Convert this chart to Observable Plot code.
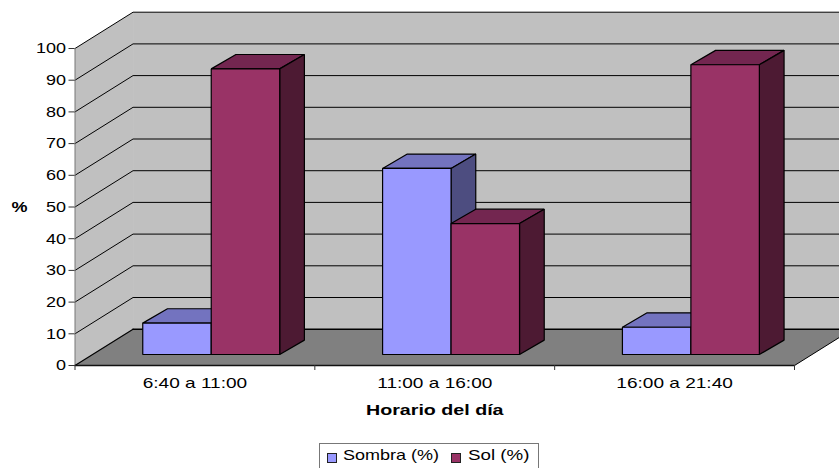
<!DOCTYPE html>
<html>
<head>
<meta charset="utf-8">
<script src="https://cdn.jsdelivr.net/npm/d3@7"></script>
<script src="https://cdn.jsdelivr.net/npm/@observablehq/plot@0.6"></script>
<style>
  html, body { margin: 0; padding: 0; background: #fff; height: 468px; overflow: hidden; }
  #chart svg { display: block; }
  #legend {
    position: absolute; left: 319px; top: 443px; width: 220px; height: 25px;
    box-sizing: border-box; border: 1px solid #777; border-bottom: none; background: #fff;
    font: 15px "Liberation Sans", Arial, sans-serif; color: #000;
  }
  #legend i { position: absolute; top: 9px; width: 8px; height: 8px; border: 1px solid #222; box-sizing: content-box; }
  #legend span { position: absolute; top: 2px; transform-origin: left; white-space: nowrap; line-height: 18px; }
</style>
</head>
<body>
<div id="chart"></div>
<div id="legend">
  <i style="left:7px;background:#9999ff"></i><span style="left:23px;transform:scaleX(1.2)">Sombra (%)</span>
  <i style="left:131px;background:#993366"></i><span style="left:148px;transform:scaleX(1.25)">Sol (%)</span>
</div>
<script>
// Share of the day spent in shade and in sun for each time band
const categories = ["6:40 a 11:00", "11:00 a 16:00", "16:00 a 21:40"];
const sombra = [9.9, 58.7, 8.6];
const sol = [90.1, 41.3, 91.4];
const yTicks = [0, 10, 20, 30, 40, 50, 60, 70, 80, 90, 100];

// Oblique projection: depth is expressed as a shift along both axes
const wallDepth = { x: 0.242, y: 11.45 };   // floor and wall depth
const barDepth = { x: 0.103, y: 4.54 };     // depth of one column
const barBase = { y: 3.47 };                // columns stand this far into the floor
const barStart = 0.2825;                    // left edge of the pair within a category
const barWidth = 0.2855;

const n = categories.length;
const shapes = [];
function poly(id, face, pts) {
  pts.forEach(([x, y]) => shapes.push({ id, face, x, y }));
}

// Side wall, back wall and floor
const walls = [];
const wall = (id, face, pts) => pts.forEach(([x, y]) => walls.push({ id, face, x, y }));
wall("left", "wall", [[0, 0], [0, 100], [wallDepth.x, 100 + wallDepth.y], [wallDepth.x, wallDepth.y]]);
wall("back", "wall", [[wallDepth.x, wallDepth.y], [wallDepth.x, 100 + wallDepth.y], [n + wallDepth.x, 100 + wallDepth.y], [n + wallDepth.x, wallDepth.y]]);
wall("floor", "floor", [[0, 0], [n, 0], [n + wallDepth.x, wallDepth.y], [wallDepth.x, wallDepth.y]]);

// Gridlines run up the side wall and then along the back wall
const grid = yTicks.slice(1).flatMap((v) => [
  { v, x: 0, y: v },
  { v, x: wallDepth.x, y: v + wallDepth.y },
  { v, x: n + wallDepth.x, y: v + wallDepth.y }
]);

// Each column is three faces, painted back to front
function column(name, i, slot, value) {
  const x0 = i + barStart + slot * barWidth, x1 = x0 + barWidth;
  const y0 = barBase.y, y1 = barBase.y + value;
  const dx = barDepth.x, dy = barDepth.y;
  const id = `${name}-${i}`;
  poly(id + "-top", name + "-top", [[x0, y1], [x1, y1], [x1 + dx, y1 + dy], [x0 + dx, y1 + dy]]);
  poly(id + "-side", name + "-side", [[x1, y0], [x1, y1], [x1 + dx, y1 + dy], [x1 + dx, y0 + dy]]);
  poly(id + "-front", name + "-front", [[x0, y0], [x1, y0], [x1, y1], [x0, y1]]);
}
categories.forEach((_, i) => {
  column("sombra", i, 0, sombra[i]);
  column("sol", i, 1, sol[i]);
});

const chart = Plot.plot({
  width: 839,
  height: 440,
  marginLeft: 74.5,
  marginRight: 45,
  marginTop: 48,
  marginBottom: 75,
  style: { fontFamily: "'Liberation Sans', Arial, sans-serif", fontSize: "15px", color: "#000", background: "#fff", overflow: "hidden" },
  x: { domain: [0, n], range: [74.5, 794] },
  y: { domain: [0, 100], range: [365, 48] },
  color: {
    domain: ["wall", "floor", "sombra-top", "sombra-side", "sombra-front", "sol-top", "sol-side", "sol-front"],
    range: ["#c0c0c0", "#808080", "#7373bf", "#4d4d80", "#9999ff", "#732650", "#4d1a33", "#993366"]
  },
  marks: [
    Plot.line(walls, { x: "x", y: "y", z: "id", fill: "face", stroke: "none", curve: "linear-closed" }),
    Plot.line(grid, { x: "x", y: "y", z: "v", stroke: "#000", strokeWidth: 1 }),
    Plot.ruleX([0], { y1: 0, y2: 100, stroke: "#777", strokeWidth: 1 }),
    // Floor outline: heavy along the front and back, thin on the slanted ends
    Plot.line([[0, 0], [wallDepth.x, wallDepth.y]], { x: "0", y: "1", stroke: "#000", strokeWidth: 1.2 }),
    Plot.line([[n, 0], [n + wallDepth.x, wallDepth.y]], { x: "0", y: "1", stroke: "#000", strokeWidth: 1 }),
    Plot.line([[wallDepth.x, wallDepth.y], [n + wallDepth.x, wallDepth.y]], { x: "0", y: "1", stroke: "#000", strokeWidth: 1.6 }),
    Plot.line([[0, 0], [n, 0]], { x: "0", y: "1", stroke: "#111", strokeWidth: 1.4 }),
    Plot.line(shapes, { x: "x", y: "y", z: "id", fill: "face", stroke: "#000", strokeWidth: 1.2, strokeLinejoin: "miter", curve: "linear-closed" }),
    Plot.axisY({ ticks: yTicks, tickSize: 6, tickPadding: 3, label: null, tickFormat: (d) => d, stroke: "#333" }),
    Plot.axisX({ ticks: d3.range(n + 1), tickSize: 5, tickFormat: () => "", label: null, stroke: "#333" }),
    Plot.axisX({ ticks: categories.map((_, i) => i + 0.5), tickSize: 0, tickPadding: 12, tickFormat: (d) => categories[d - 0.5], label: null }),
    Plot.text(["%"], { y: [50], frameAnchor: "left", dx: -55.5, textAnchor: "middle", fontWeight: "bold" }),
    Plot.text(["Horario del día"], { x: [n / 2], frameAnchor: "bottom", dy: 49, textAnchor: "middle", fontWeight: "bold" })
  ]
});
document.getElementById("chart").append(chart);

// The typeface is set slightly extended horizontally; category and axis titles a little more
chart.querySelectorAll("text").forEach((t) => {
  const len = t.getComputedTextLength();
  if (len > 0) {
    const wide = /[a-z]/.test(t.textContent);
    const bold = getComputedStyle(t).fontWeight >= 600 || t.getAttribute("font-weight") === "bold";
    t.setAttribute("textLength", len * (bold && wide ? 1.31 : wide ? 1.27 : 1.2));
    t.setAttribute("lengthAdjust", "spacingAndGlyphs");
  }
});
</script>
</body>
</html>
